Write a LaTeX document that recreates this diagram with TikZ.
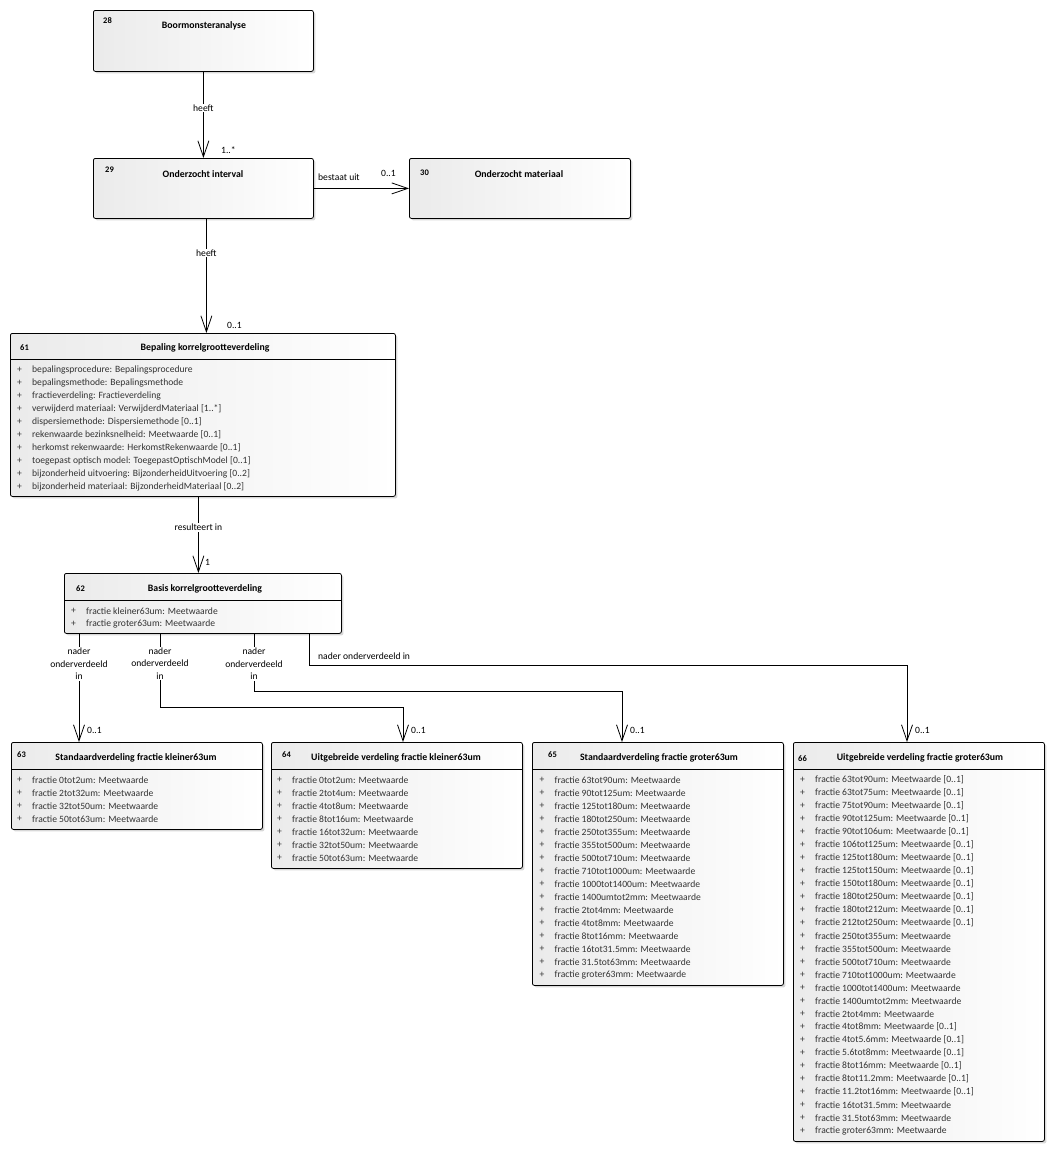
\documentclass[tikz,border=0pt]{standalone}
\usepackage{fontspec}
\setmainfont{Carlito}
\usetikzlibrary{arrows.meta,shadows,calc}
\newcommand\umlbox[5]{\node[box, minimum width=#4pt, minimum height=#5pt] (#1) at (#2,#3) {};}
\newcommand\umlsep[2]{\draw[sepline] ($(#1.north west)+(0,#2)$) -- ($(#1.north east)+(0,#2)$);}
\newcommand\attrlist[4]{\foreach \itm [count=\i from 0] in {#4} {\node[attr] at (#1,#2+#3*\i) {+}; \node[attr] at (#1+15,#2+#3*\i) {\itm};}}
\begin{document}
\begin{tikzpicture}[x=1pt,y=-1pt,
  box/.style={draw=black, line width=0.8pt, rounded corners=2pt, left color=black!8, right color=white,
    drop shadow={shadow xshift=2pt,shadow yshift=-2pt,fill=black!30,opacity=0.5},
    anchor=north west, inner sep=0pt},
  sepline/.style={draw=black, line width=0.7pt},
  num/.style={font=\fontsize{8.5}{9}\selectfont\bfseries, anchor=west, inner sep=0pt},
  ttl/.style={font=\fontsize{9.8}{10}\selectfont\bfseries, inner sep=0pt},
  attr/.style={font=\fontsize{9.6}{10}\selectfont, text=black!80, anchor=west, inner sep=0pt},
  lab/.style={font=\fontsize{9.6}{12.5}\selectfont, fill=white, inner sep=1pt, align=center},
  mult/.style={font=\fontsize{9.6}{10}\selectfont, anchor=west, inner sep=0pt},
  assoc/.style={draw=black, line width=0.8pt, -{Straight Barb[length=16pt,width=11pt,line width=0.8pt]}}
]
\useasboundingbox[fill=white] (0,0) rectangle (1055,1152);

% boxes
\umlbox{b28}{93}{10}{220}{61}
\umlbox{b29}{93}{158}{220}{60}
\umlbox{b30}{409}{158}{221}{60}
\umlbox{b61}{10}{333}{385}{163}
\umlbox{b62}{64}{573}{277}{60}
\umlbox{b63}{11}{742}{251}{87}
\umlbox{b64}{271}{742}{251}{126}
\umlbox{b65}{532}{742}{251}{243}
\umlbox{b66}{793}{742}{251}{399}

\umlsep{b61}{26}
\umlsep{b62}{27}
\umlsep{b63}{27}
\umlsep{b64}{27}
\umlsep{b65}{27}
\umlsep{b66}{27}

% titles
\node[num] at (103,21) {28}; \node[ttl] at (204,26) {Boormonsteranalyse};
\node[num] at (105,170) {29}; \node[ttl] at (203,174) {Onderzocht interval};
\node[num] at (420,173) {30}; \node[ttl] at (519,174) {Onderzocht materiaal};
\node[num] at (20,348) {61}; \node[ttl] at (205,348) {Bepaling korrelgrootteverdeling};
\node[num] at (76,589) {62}; \node[ttl] at (205,589) {Basis korrelgrootteverdeling};
\node[num] at (17,755) {63}; \node[ttl] at (136,758) {Standaardverdeling fractie kleiner63um};
\node[num] at (282,755) {64}; \node[ttl] at (396,758) {Uitgebreide verdeling fractie kleiner63um};
\node[num] at (548,755) {65}; \node[ttl] at (659,758) {Standaardverdeling fractie groter63um};
\node[num] at (798,759) {66}; \node[ttl] at (920,758) {Uitgebreide verdeling fractie groter63um};

% attributes
\attrlist{17}{370}{13}{{bepalingsprocedure: Bepalingsprocedure},{bepalingsmethode: Bepalingsmethode},{fractieverdeling: Fractieverdeling},{verwijderd materiaal: VerwijderdMateriaal [1..*]},{dispersiemethode: Dispersiemethode [0..1]},{rekenwaarde bezinksnelheid: Meetwaarde [0..1]},{herkomst rekenwaarde: HerkomstRekenwaarde [0..1]},{toegepast optisch model: ToegepastOptischModel [0..1]},{bijzonderheid uitvoering: BijzonderheidUitvoering [0..2]},{bijzonderheid materiaal: BijzonderheidMateriaal [0..2]}}
\attrlist{71}{611}{13}{{fractie kleiner63um: Meetwaarde},{fractie groter63um: Meetwaarde}}
\attrlist{17}{780}{13}{{fractie 0tot2um: Meetwaarde},{fractie 2tot32um: Meetwaarde},{fractie 32tot50um: Meetwaarde},{fractie 50tot63um: Meetwaarde}}
\attrlist{277}{780}{13}{{fractie 0tot2um: Meetwaarde},{fractie 2tot4um: Meetwaarde},{fractie 4tot8um: Meetwaarde},{fractie 8tot16um: Meetwaarde},{fractie 16tot32um: Meetwaarde},{fractie 32tot50um: Meetwaarde},{fractie 50tot63um: Meetwaarde}}
\attrlist{539.5}{780}{13}{{fractie 63tot90um: Meetwaarde},{fractie 90tot125um: Meetwaarde},{fractie 125tot180um: Meetwaarde},{fractie 180tot250um: Meetwaarde},{fractie 250tot355um: Meetwaarde},{fractie 355tot500um: Meetwaarde},{fractie 500tot710um: Meetwaarde},{fractie 710tot1000um: Meetwaarde},{fractie 1000tot1400um: Meetwaarde},{fractie 1400umtot2mm: Meetwaarde},{fractie 2tot4mm: Meetwaarde},{fractie 4tot8mm: Meetwaarde},{fractie 8tot16mm: Meetwaarde},{fractie 16tot31.5mm: Meetwaarde},{fractie 31.5tot63mm: Meetwaarde},{fractie groter63mm: Meetwaarde}}
\attrlist{800}{780}{13}{{fractie 63tot90um: Meetwaarde [0..1]},{fractie 63tot75um: Meetwaarde [0..1]},{fractie 75tot90um: Meetwaarde [0..1]},{fractie 90tot125um: Meetwaarde [0..1]},{fractie 90tot106um: Meetwaarde [0..1]},{fractie 106tot125um: Meetwaarde [0..1]},{fractie 125tot180um: Meetwaarde [0..1]},{fractie 125tot150um: Meetwaarde [0..1]},{fractie 150tot180um: Meetwaarde [0..1]},{fractie 180tot250um: Meetwaarde [0..1]},{fractie 180tot212um: Meetwaarde [0..1]},{fractie 212tot250um: Meetwaarde [0..1]},{fractie 250tot355um: Meetwaarde},{fractie 355tot500um: Meetwaarde},{fractie 500tot710um: Meetwaarde},{fractie 710tot1000um: Meetwaarde},{fractie 1000tot1400um: Meetwaarde},{fractie 1400umtot2mm: Meetwaarde},{fractie 2tot4mm: Meetwaarde},{fractie 4tot8mm: Meetwaarde [0..1]},{fractie 4tot5.6mm: Meetwaarde [0..1]},{fractie 5.6tot8mm: Meetwaarde [0..1]},{fractie 8tot16mm: Meetwaarde [0..1]},{fractie 8tot11.2mm: Meetwaarde [0..1]},{fractie 11.2tot16mm: Meetwaarde [0..1]},{fractie 16tot31.5mm: Meetwaarde},{fractie 31.5tot63mm: Meetwaarde},{fractie groter63mm: Meetwaarde}}

% connectors
\draw[assoc] (b28.south) -- node[lab,pos=0.42]{heeft} (b29.north);
\node[mult] at (221,150) {1..*};
\draw[assoc] (b29.east) -- (b30.west);
\node[mult] at (318,177) {bestaat uit};
\node[mult] at (381,173) {0..1};
\draw[assoc] (b29.south) ++(3,0) coordinate (h2) -- node[lab,pos=0.3]{heeft} (h2 |- b61.north);
\node[mult] at (227,325) {0..1};
\draw[assoc] (b61.south) ++(-4.5,0) coordinate (r1) -- node[lab,pos=0.4]{resulteert in} (r1 |- b62.north);
\node[mult] at (205,562) {1};

\draw[assoc] (b62.south west) ++(15,0) coordinate (s1) -- node[lab,pos=0.28]{nader\\onderverdeeld\\in} (s1 |- b63.north);
\draw[assoc] (b62.south west) ++(96,0) coordinate (s2) -- node[lab,pos=0.4]{nader\\onderverdeeld\\in} ++(0,74) -| ($(b64.north west)+(132,0)$);
\draw[assoc] (b62.south west) ++(190,0) coordinate (s3) -- node[lab,pos=0.52]{nader\\onderverdeeld\\in} ++(0,58) -| ($(b65.north west)+(90,0)$);
\draw[assoc] (b62.south west) ++(245,0) coordinate (s4) -- ++(0,32) -| ($(b66.north west)+(114,0)$);
\node[mult] at (318,656) {nader onderverdeeld in};
\node[mult] at (87,730) {0..1};
\node[mult] at (411,730) {0..1};
\node[mult] at (630,730) {0..1};
\node[mult] at (915,730) {0..1};
\end{tikzpicture}
\end{document}
